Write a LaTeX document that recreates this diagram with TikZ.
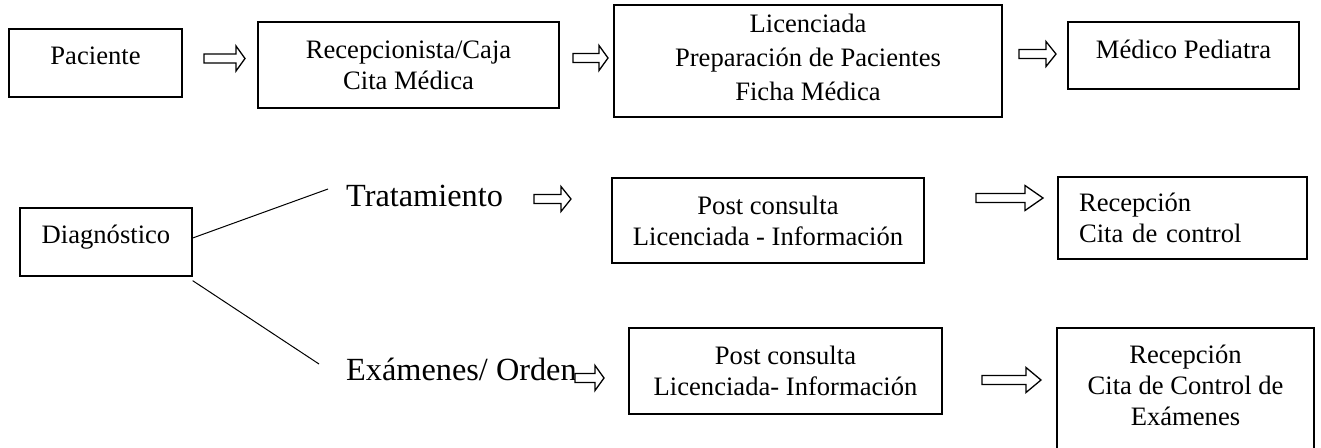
\documentclass[tikz,border=0pt]{standalone}
\usepackage{fontspec}
\setmainfont{Liberation Serif}
\usetikzlibrary{calc}
\newcommand\blockarrow[4]{% x1, x2, y, head length
  \draw[barrow] (#1,#3-4.5) -- (#2-#4,#3-4.5) -- (#2-#4,#3-12.5) -- (#2,#3)
    -- (#2-#4,#3+12.5) -- (#2-#4,#3+4.5) -- (#1,#3+4.5) -- cycle;}
\begin{document}
\begin{tikzpicture}[x=1pt,y=-1pt,
  box/.style={draw, line width=1.3pt, inner sep=0pt, align=center,
    font=\fontsize{26.6}{31}\selectfont},
  big/.style={inner sep=0pt, font=\fontsize{32.3}{38}\selectfont},
  barrow/.style={draw, line width=1.3pt, fill=white, line join=miter},
  link/.style={line width=1pt}]
\useasboundingbox[fill=white] (0,0) rectangle (1321,447);

% top row
\node[box, minimum width=173, minimum height=68, text depth=14pt] (pac) at (95.5,63) {Paciente};
\node[box, minimum width=301, minimum height=86] (rec) at (408.5,65) {Recepcionista/Caja\\Cita Médica};
\node[box, minimum width=388, minimum height=112, font=\fontsize{26.6}{34}\selectfont, text depth=8pt] (lic) at (808,61) {Licenciada\\Preparación de Pacientes\\Ficha Médica};
\node[box, minimum width=231, minimum height=67, text depth=13pt] (med) at (1183.5,55.5) {Médico Pediatra};

% bottom part
\node[box, minimum width=172, minimum height=68, text depth=15.7pt] (diag) at (106,242) {Diagnóstico};
\node[big, anchor=base west] (trat) at (346,206) {Tratamiento};
\node[big, anchor=base west] (exa) at (346,380) {Exámenes/ Orden};
\coordinate (te) at (328,189);
\coordinate (ee) at (319,364);
\draw[link] ($(diag.east)+(0,-4)$) -- (te);
\draw[link] ($(diag.south east)+(0,4)$) -- (ee);

\node[box, minimum width=312, minimum height=85] (post1) at (768,220.5) {Post consulta\\Licenciada - Información};
\node[box, minimum width=313, minimum height=86] (post2) at (785.5,371) {Post consulta\\Licenciada- Información};
\node[box, align=left, text width=207pt, inner xsep=21pt, minimum height=82] (rc1) at (1182.5,218) {Recepción\\Cita de control};
\node[box, minimum width=257, minimum height=122, text depth=8pt] (rc2) at (1185.5,389) {Recepción\\Cita de Control de\\Exámenes};

% block arrows
\blockarrow{204}{245}{58.5}{9}
\blockarrow{573}{608}{58}{9}
\blockarrow{1019}{1056}{54}{10}
\blockarrow{534}{571}{199}{10}
\blockarrow{976}{1043}{198}{18}
\blockarrow{575}{604}{378}{9}
\blockarrow{982}{1041}{380}{15}
\end{tikzpicture}
\end{document}
